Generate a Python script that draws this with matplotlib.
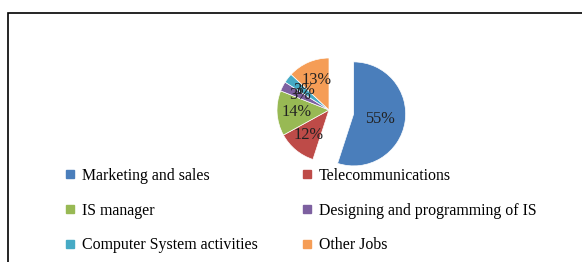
import matplotlib.pyplot as plt
from matplotlib.lines import Line2D
from matplotlib.patches import Rectangle

plt.rcParams['font.family'] = ['Liberation Serif', 'DejaVu Serif']

# data
jobs = ["Marketing and sales", "Telecommunications", "IS manager",
        "Designing and programming of IS", "Computer System activities", "Other Jobs"]
shares = [55, 12, 14, 3, 3, 13]
colors = ["#4A7EBB", "#BE4B48", "#98B954", "#7D60A0", "#46AAC5", "#F59D56"]

W, H = 582, 262
fig = plt.figure(figsize=(W / 100, H / 100), dpi=100)

# outer chart border (cut off at right and bottom like the source)
fig.patches.append(Rectangle((8 / W, -0.1), 1.2, 1 - 12.5 / H + 0.1,
                             transform=fig.transFigure, fill=False,
                             edgecolor="black", linewidth=1.2))

# pie: center (329,110) px, radius 52 px
r = 52
cx, cy = 329, 110
half = 1.5 * r
ax = fig.add_axes([(cx - half) / W, (H - cy - half) / H, 2 * half / W, 2 * half / H])
explode = [0.48, 0, 0, 0, 0, 0]
wedges, texts, autotexts = ax.pie(shares, colors=colors, startangle=90, counterclock=False,
                                  explode=explode, autopct="%d%%", pctdistance=0.62,
                                  wedgeprops=dict(edgecolor="white", linewidth=0.5),
                                  textprops=dict(fontsize=11.8, color="#222222"))
autotexts[0].set_position((autotexts[0].get_position()[0] - 0.1, autotexts[0].get_position()[1]))
ax.set_xlim(-1.5, 1.5)
ax.set_ylim(-1.5, 1.5)
ax.axis("off")

# legend, filled column-wise so rows read left to right
order = [0, 2, 4, 1, 3, 5]
handles = [Line2D([], [], marker="s", linestyle="none", markersize=6,
                  markerfacecolor=colors[i], markeredgecolor=colors[i]) for i in order]
fig.legend(handles, [jobs[i] for i in order], ncol=2, loc="upper left",
           bbox_to_anchor=(66 / W, 1 - 168 / H), frameon=False, fontsize=11.4,
           handlelength=0.55, handletextpad=0.48, columnspacing=2.8,
           labelspacing=1.17, borderaxespad=0, borderpad=0)

fig.savefig("out.png", dpi=100)
